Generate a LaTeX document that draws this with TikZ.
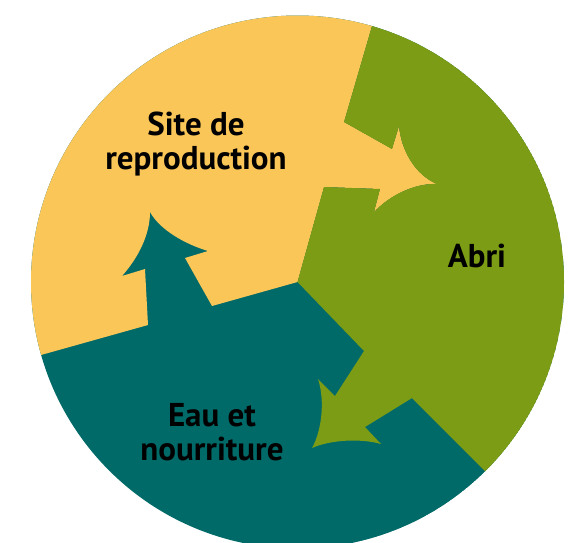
\documentclass[tikz,border=0pt]{standalone}
\usepackage{fontspec}
\setmainfont{PT Sans}
\usepackage{tikz}

\definecolor{sitey}{RGB}{251,198,88}
\definecolor{abrig}{RGB}{123,156,20}
\definecolor{eaut}{RGB}{0,106,104}

\tikzset{
  lbl/.style={font=\fontsize{33}{34}\selectfont\bfseries, align=center, text=black},
}

\begin{document}
\begin{tikzpicture}[x=1pt,y=-1pt]
\useasboundingbox (0,0) rectangle (572,542);
\begin{scope}
\clip (297.5,282) circle (266.5);

\path[fill=eaut]% eau et nourriture
(297.5,282) circle (266.5);
\path[fill=sitey]% site de reproduction
(297.5,282)--(324,187)--(380,189)--(374,212)
.. controls (390,195) and (415,183) .. (437,184)
.. controls (415,175) and (401,150) .. (399,126)
--(392,149)--(344,122)--(372,26)--(386,-22)--(-30,-22)--(-30,375)
--(41,355)--(148,325)--(145,269)--(122,276)
.. controls (138,258) and (150,235) .. (150,212)
.. controls (160,230) and (185,244) .. (208,251)
--(185,258)--(212,306)--cycle;
\path[fill=abrig]% abri
(297.5,282)--(324,187)--(380,189)--(374,212)
.. controls (390,195) and (415,183) .. (437,184)
.. controls (415,175) and (401,150) .. (399,126)
--(392,149)--(344,122)--(372,26)--(386,-22)--(620,-22)--(620,606)
--(412,398)--(365,427)--(381,444)
.. controls (360,438) and (330,440) .. (312,448)
.. controls (322,430) and (325,400) .. (318,379)
--(335,396)--(364,351)--cycle;

\end{scope}

\node[lbl] (site) at (196,144) {Site de\\reproduction};
\node[lbl] (abri) at (477,256) {Abri};
\node[lbl] (eau)  at (212,432) {Eau et\\nourriture};

\end{tikzpicture}
\end{document}
